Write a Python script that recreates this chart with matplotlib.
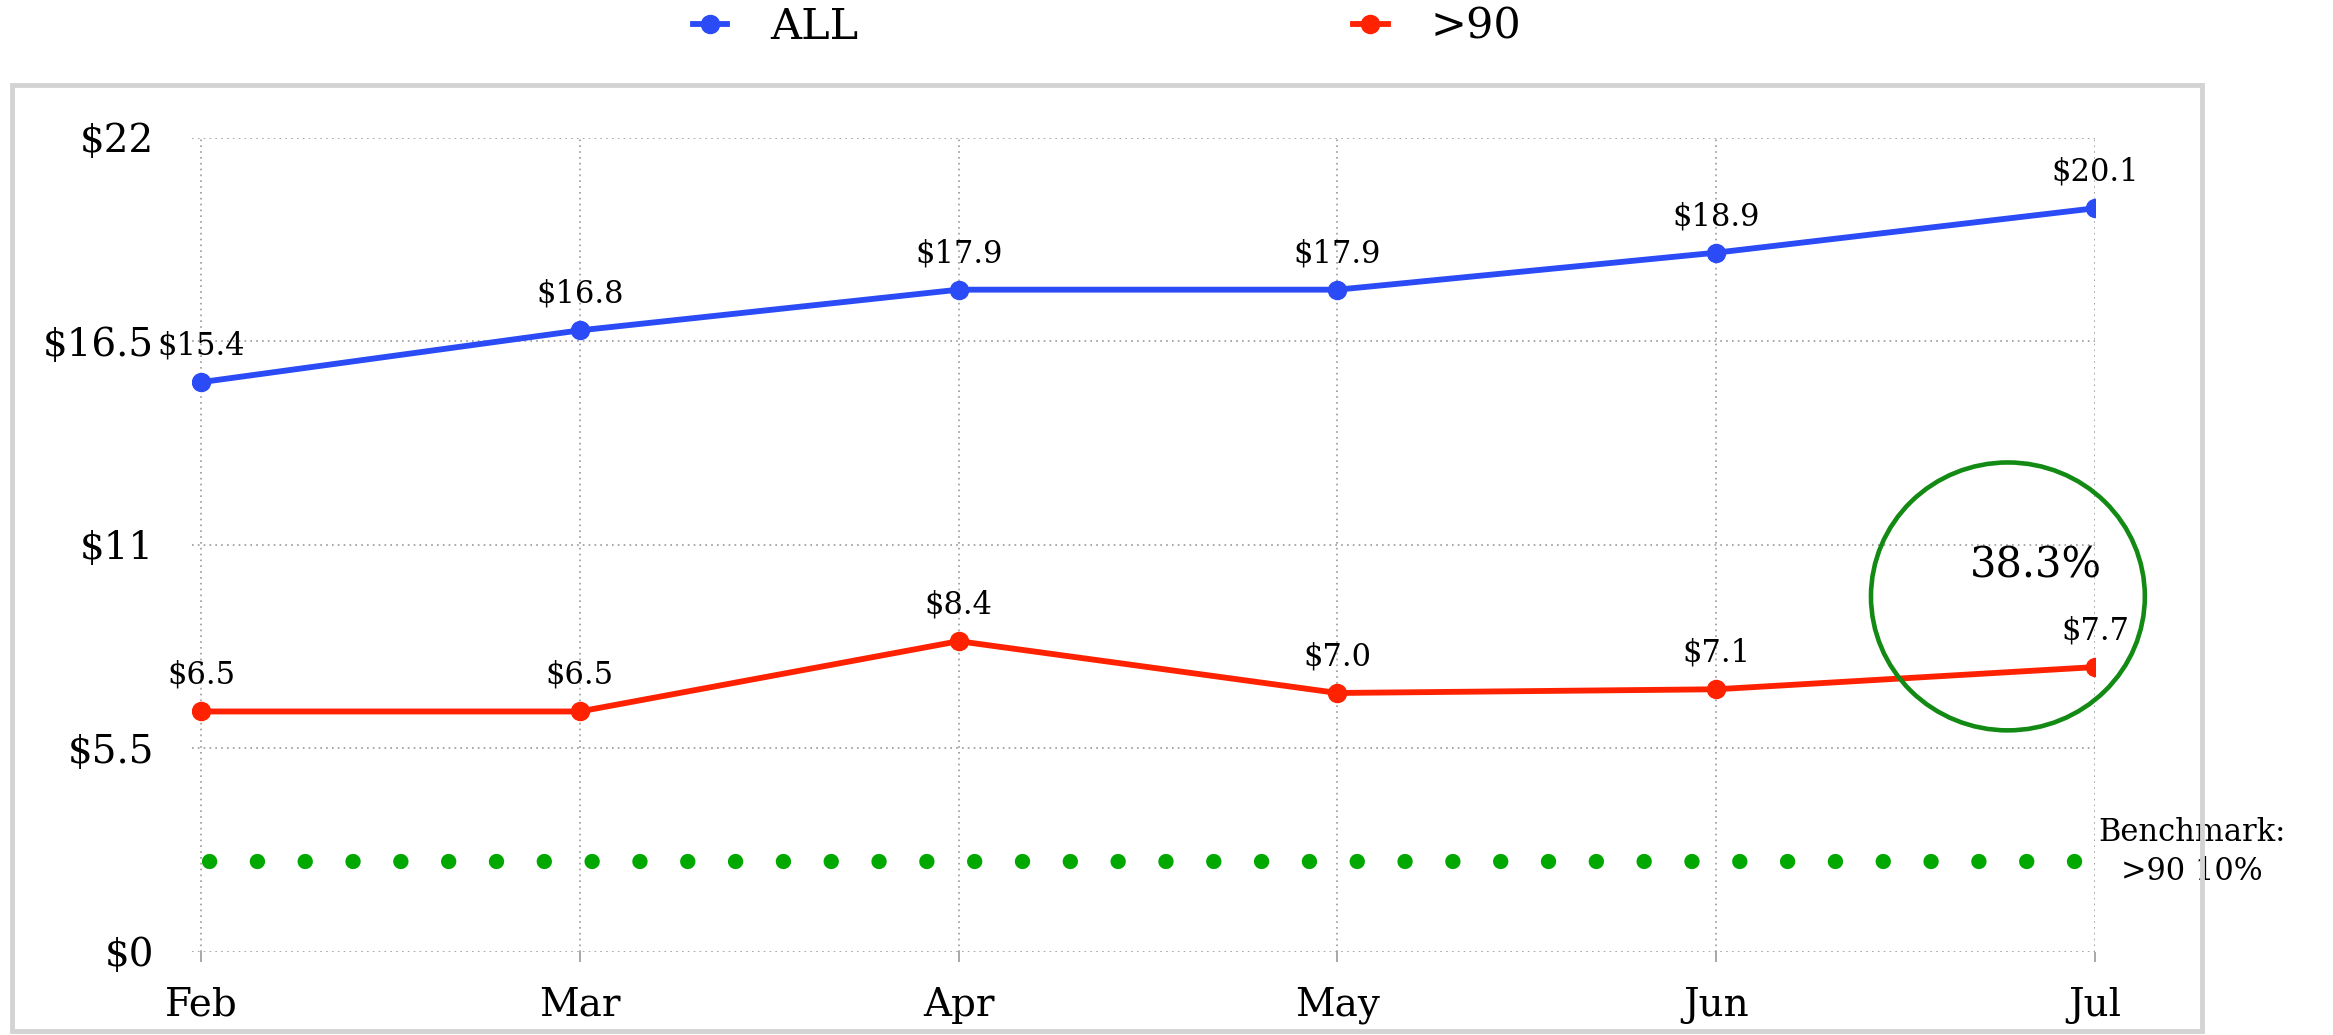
import matplotlib.pyplot as plt
from matplotlib.patches import Ellipse, Rectangle

plt.rcParams['font.family'] = ['DejaVu Serif']

# data
months = ['Feb', 'Mar', 'Apr', 'May', 'Jun', 'Jul']
all_vals = [15.4, 16.8, 17.9, 17.9, 18.9, 20.1]
over90_vals = [6.5, 6.5, 8.4, 7.0, 7.1, 7.7]
benchmark = 2.45
yticks = [0, 5.5, 11, 16.5, 22]
ytick_labels = ['$0', '$5.5', '$11', '$16.5', '$22']
highlight = '38.3%'

blue = '#2a4bf5'
red = '#ff2200'
green = '#138a13'
dot_green = '#00a800'

fig = plt.figure(figsize=(23.33, 10.35), dpi=100)

# light grey frame round the plot
fig.patches.append(Rectangle((0.005, 0.004), 0.939, 0.914, transform=fig.transFigure,
                             fill=False, edgecolor='#d3d3d3', linewidth=3.5))

ax = fig.add_axes([0.0821, 0.0802, 0.8159, 0.7865])
x = list(range(len(months)))

ax.plot(x, all_vals, color=blue, lw=4.2, marker='o', ms=13, label='ALL', zorder=3)
ax.plot(x, over90_vals, color=red, lw=4.2, marker='o', ms=13, label='>90', zorder=3)

# benchmark as a row of round dots
ax.plot([0.02, 5.01], [benchmark, benchmark], color=dot_green, lw=11,
        linestyle=(0, (0.01, 3.12)), dash_capstyle='round', zorder=2, clip_on=False)

for xi, v in zip(x, all_vals):
    ax.annotate(f'${v:.1f}', (xi, v), xytext=(0, 26), textcoords='offset points',
                ha='center', va='center', fontsize=22)
for xi, v in zip(x, over90_vals):
    ax.annotate(f'${v:.1f}', (xi, v), xytext=(0, 26), textcoords='offset points',
                ha='center', va='center', fontsize=22)

ax.add_patch(Ellipse((4.77, 9.61), 0.723, 7.24, fill=False, edgecolor=green, lw=3.3,
                     zorder=4, clip_on=False))
ax.text(4.843, 10.44, highlight, ha='center', va='center', fontsize=30)

ax.text(5.255, 2.7, 'Benchmark:\n>90 10%', ha='center', va='center', fontsize=22,
        multialignment='center', linespacing=1.35, clip_on=False)

ax.set_xlim(-0.025, 5)
ax.set_ylim(0, 22)
ax.set_xticks(x)
ax.set_xticklabels(months)
ax.set_yticks(yticks)
ax.set_yticklabels(ytick_labels)
ax.tick_params(axis='x', length=7, color='#999999', width=1.2, pad=18, labelsize=28)
ax.tick_params(axis='y', length=0, pad=27, labelsize=28)
ax.grid(True, color='#999999', linestyle=(0, (1, 2.5)), linewidth=1.2)
ax.set_axisbelow(True)
for s in ax.spines.values():
    s.set_visible(False)

fig.legend(loc='center', bbox_to_anchor=(0.4745, 0.974), ncol=2, frameon=False,
           fontsize=31, handlelength=0.8, handletextpad=1.0, columnspacing=11.5)

plt.savefig('out.png', dpi=100)
